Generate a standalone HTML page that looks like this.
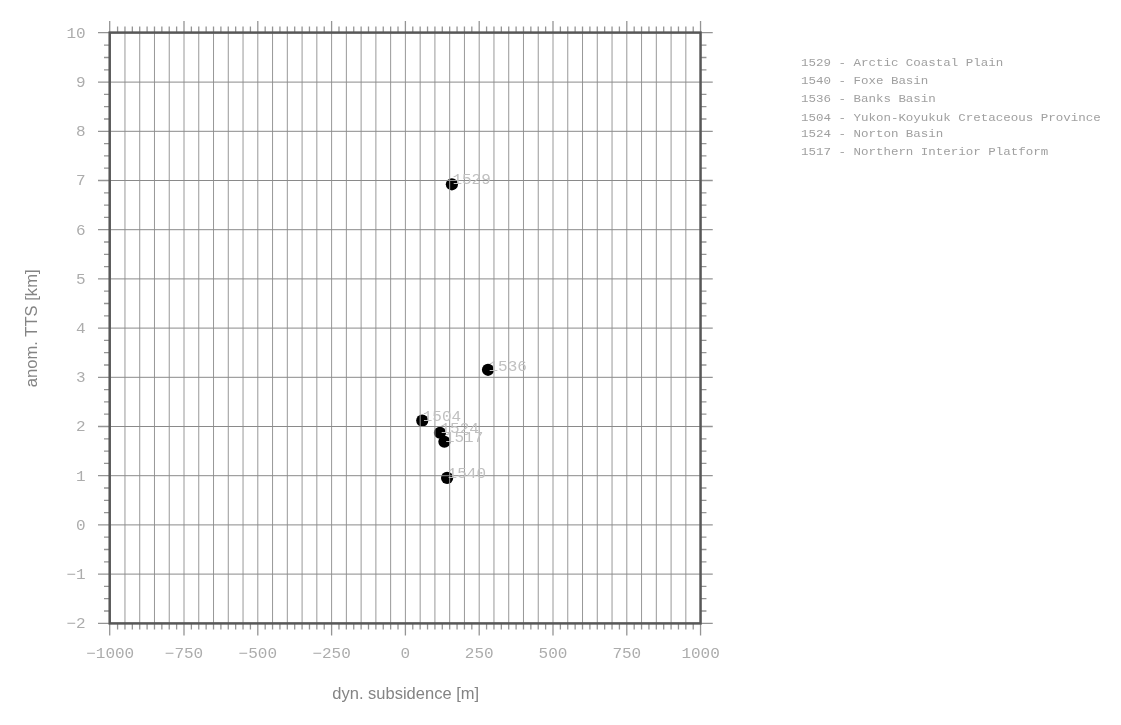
<!DOCTYPE html>
<html><head><meta charset="utf-8"><title>plot</title>
<style>html,body{margin:0;padding:0;background:#fff;}svg{display:block;}</style></head>
<body><svg width="1121" height="725" viewBox="0 0 1121 725">
<rect width="1121" height="725" fill="#fff"/>
<circle cx="451.90" cy="184.30" r="6.1" fill="#000"/>
<circle cx="488.00" cy="369.80" r="6.1" fill="#000"/>
<circle cx="422.25" cy="420.60" r="6.1" fill="#000"/>
<circle cx="439.95" cy="432.75" r="6.1" fill="#000"/>
<circle cx="444.40" cy="441.75" r="6.1" fill="#000"/>
<circle cx="447.10" cy="477.90" r="6.1" fill="#000"/>
<path d="M124.96 32.60V623.40M139.72 32.60V623.40M154.48 32.60V623.40M169.24 32.60V623.40M184.00 32.60V623.40M198.76 32.60V623.40M213.52 32.60V623.40M228.28 32.60V623.40M243.04 32.60V623.40M257.80 32.60V623.40M272.56 32.60V623.40M287.32 32.60V623.40M302.08 32.60V623.40M316.84 32.60V623.40M331.60 32.60V623.40M346.36 32.60V623.40M361.12 32.60V623.40M375.88 32.60V623.40M390.64 32.60V623.40M405.40 32.60V623.40M420.16 32.60V623.40M434.92 32.60V623.40M449.68 32.60V623.40M464.44 32.60V623.40M479.20 32.60V623.40M493.96 32.60V623.40M508.72 32.60V623.40M523.48 32.60V623.40M538.24 32.60V623.40M553.00 32.60V623.40M567.76 32.60V623.40M582.52 32.60V623.40M597.28 32.60V623.40M612.04 32.60V623.40M626.80 32.60V623.40M641.56 32.60V623.40M656.32 32.60V623.40M671.08 32.60V623.40M685.84 32.60V623.40" stroke="#989898" stroke-width="1" fill="none"/>
<path d="M109.70 574.10H700.55M109.70 524.90H700.55M109.70 475.70H700.55M109.70 426.50H700.55M109.70 377.30H700.55M109.70 328.10H700.55M109.70 278.90H700.55M109.70 229.70H700.55M109.70 180.50H700.55M109.70 131.30H700.55M109.70 82.10H700.55" stroke="#8a8a8a" stroke-width="1" fill="none"/>
<path d="M109.70 623.40v6M109.70 32.60v-6M109.70 623.40v12M109.70 32.60v-11.6M117.58 623.40v6M117.58 32.60v-6M124.96 623.40v6M124.96 32.60v-6M132.34 623.40v6M132.34 32.60v-6M139.72 623.40v6M139.72 32.60v-6M147.10 623.40v6M147.10 32.60v-6M154.48 623.40v6M154.48 32.60v-6M161.86 623.40v6M161.86 32.60v-6M169.24 623.40v6M169.24 32.60v-6M176.62 623.40v6M176.62 32.60v-6M184.00 623.40v6M184.00 32.60v-6M184.00 623.40v12M184.00 32.60v-11.6M191.38 623.40v6M191.38 32.60v-6M198.76 623.40v6M198.76 32.60v-6M206.14 623.40v6M206.14 32.60v-6M213.52 623.40v6M213.52 32.60v-6M220.90 623.40v6M220.90 32.60v-6M228.28 623.40v6M228.28 32.60v-6M235.66 623.40v6M235.66 32.60v-6M243.04 623.40v6M243.04 32.60v-6M250.42 623.40v6M250.42 32.60v-6M257.80 623.40v6M257.80 32.60v-6M257.80 623.40v12M257.80 32.60v-11.6M265.18 623.40v6M265.18 32.60v-6M272.56 623.40v6M272.56 32.60v-6M279.94 623.40v6M279.94 32.60v-6M287.32 623.40v6M287.32 32.60v-6M294.70 623.40v6M294.70 32.60v-6M302.08 623.40v6M302.08 32.60v-6M309.46 623.40v6M309.46 32.60v-6M316.84 623.40v6M316.84 32.60v-6M324.22 623.40v6M324.22 32.60v-6M331.60 623.40v6M331.60 32.60v-6M331.60 623.40v12M331.60 32.60v-11.6M338.98 623.40v6M338.98 32.60v-6M346.36 623.40v6M346.36 32.60v-6M353.74 623.40v6M353.74 32.60v-6M361.12 623.40v6M361.12 32.60v-6M368.50 623.40v6M368.50 32.60v-6M375.88 623.40v6M375.88 32.60v-6M383.26 623.40v6M383.26 32.60v-6M390.64 623.40v6M390.64 32.60v-6M398.02 623.40v6M398.02 32.60v-6M405.40 623.40v6M405.40 32.60v-6M405.40 623.40v12M405.40 32.60v-11.6M412.78 623.40v6M412.78 32.60v-6M420.16 623.40v6M420.16 32.60v-6M427.54 623.40v6M427.54 32.60v-6M434.92 623.40v6M434.92 32.60v-6M442.30 623.40v6M442.30 32.60v-6M449.68 623.40v6M449.68 32.60v-6M457.06 623.40v6M457.06 32.60v-6M464.44 623.40v6M464.44 32.60v-6M471.82 623.40v6M471.82 32.60v-6M479.20 623.40v6M479.20 32.60v-6M479.20 623.40v12M479.20 32.60v-11.6M486.58 623.40v6M486.58 32.60v-6M493.96 623.40v6M493.96 32.60v-6M501.34 623.40v6M501.34 32.60v-6M508.72 623.40v6M508.72 32.60v-6M516.10 623.40v6M516.10 32.60v-6M523.48 623.40v6M523.48 32.60v-6M530.86 623.40v6M530.86 32.60v-6M538.24 623.40v6M538.24 32.60v-6M545.62 623.40v6M545.62 32.60v-6M553.00 623.40v6M553.00 32.60v-6M553.00 623.40v12M553.00 32.60v-11.6M560.38 623.40v6M560.38 32.60v-6M567.76 623.40v6M567.76 32.60v-6M575.14 623.40v6M575.14 32.60v-6M582.52 623.40v6M582.52 32.60v-6M589.90 623.40v6M589.90 32.60v-6M597.28 623.40v6M597.28 32.60v-6M604.66 623.40v6M604.66 32.60v-6M612.04 623.40v6M612.04 32.60v-6M619.42 623.40v6M619.42 32.60v-6M626.80 623.40v6M626.80 32.60v-6M626.80 623.40v12M626.80 32.60v-11.6M634.18 623.40v6M634.18 32.60v-6M641.56 623.40v6M641.56 32.60v-6M648.94 623.40v6M648.94 32.60v-6M656.32 623.40v6M656.32 32.60v-6M663.70 623.40v6M663.70 32.60v-6M671.08 623.40v6M671.08 32.60v-6M678.46 623.40v6M678.46 32.60v-6M685.84 623.40v6M685.84 32.60v-6M693.22 623.40v6M693.22 32.60v-6M700.55 623.40v6M700.55 32.60v-6M700.55 623.40v12M700.55 32.60v-11.6M109.70 623.40h-5.7M700.55 623.40h5.9M109.70 623.40h-11.7M700.55 623.40h12.2M109.70 611.00h-5.7M700.55 611.00h5.9M109.70 598.70h-5.7M700.55 598.70h5.9M109.70 586.40h-5.7M700.55 586.40h5.9M109.70 574.10h-5.7M700.55 574.10h5.9M109.70 574.10h-11.7M700.55 574.10h12.2M109.70 561.80h-5.7M700.55 561.80h5.9M109.70 549.50h-5.7M700.55 549.50h5.9M109.70 537.20h-5.7M700.55 537.20h5.9M109.70 524.90h-5.7M700.55 524.90h5.9M109.70 524.90h-11.7M700.55 524.90h12.2M109.70 512.60h-5.7M700.55 512.60h5.9M109.70 500.30h-5.7M700.55 500.30h5.9M109.70 488.00h-5.7M700.55 488.00h5.9M109.70 475.70h-5.7M700.55 475.70h5.9M109.70 475.70h-11.7M700.55 475.70h12.2M109.70 463.40h-5.7M700.55 463.40h5.9M109.70 451.10h-5.7M700.55 451.10h5.9M109.70 438.80h-5.7M700.55 438.80h5.9M109.70 426.50h-5.7M700.55 426.50h5.9M109.70 426.50h-11.7M700.55 426.50h12.2M109.70 414.20h-5.7M700.55 414.20h5.9M109.70 401.90h-5.7M700.55 401.90h5.9M109.70 389.60h-5.7M700.55 389.60h5.9M109.70 377.30h-5.7M700.55 377.30h5.9M109.70 377.30h-11.7M700.55 377.30h12.2M109.70 365.00h-5.7M700.55 365.00h5.9M109.70 352.70h-5.7M700.55 352.70h5.9M109.70 340.40h-5.7M700.55 340.40h5.9M109.70 328.10h-5.7M700.55 328.10h5.9M109.70 328.10h-11.7M700.55 328.10h12.2M109.70 315.80h-5.7M700.55 315.80h5.9M109.70 303.50h-5.7M700.55 303.50h5.9M109.70 291.20h-5.7M700.55 291.20h5.9M109.70 278.90h-5.7M700.55 278.90h5.9M109.70 278.90h-11.7M700.55 278.90h12.2M109.70 266.60h-5.7M700.55 266.60h5.9M109.70 254.30h-5.7M700.55 254.30h5.9M109.70 242.00h-5.7M700.55 242.00h5.9M109.70 229.70h-5.7M700.55 229.70h5.9M109.70 229.70h-11.7M700.55 229.70h12.2M109.70 217.40h-5.7M700.55 217.40h5.9M109.70 205.10h-5.7M700.55 205.10h5.9M109.70 192.80h-5.7M700.55 192.80h5.9M109.70 180.50h-5.7M700.55 180.50h5.9M109.70 180.50h-11.7M700.55 180.50h12.2M109.70 168.20h-5.7M700.55 168.20h5.9M109.70 155.90h-5.7M700.55 155.90h5.9M109.70 143.60h-5.7M700.55 143.60h5.9M109.70 131.30h-5.7M700.55 131.30h5.9M109.70 131.30h-11.7M700.55 131.30h12.2M109.70 119.00h-5.7M700.55 119.00h5.9M109.70 106.70h-5.7M700.55 106.70h5.9M109.70 94.40h-5.7M700.55 94.40h5.9M109.70 82.10h-5.7M700.55 82.10h5.9M109.70 82.10h-11.7M700.55 82.10h12.2M109.70 69.80h-5.7M700.55 69.80h5.9M109.70 57.50h-5.7M700.55 57.50h5.9M109.70 45.20h-5.7M700.55 45.20h5.9M109.70 32.60h-5.7M700.55 32.60h5.9M109.70 32.60h-11.7M700.55 32.60h12.2" stroke="rgba(0,0,0,0.42)" stroke-width="1.3" fill="none"/>
<rect x="109.70" y="32.60" width="590.85" height="590.80" stroke="#575757" stroke-width="2.5" fill="none"/>
<g fill="#acacac" font-family="Liberation Mono, monospace" font-size="16"><text x="110.20" y="657.8" text-anchor="middle" transform="translate(0 657.80) scale(1 0.93) translate(0 -657.80)">−1000</text><text x="184.00" y="657.8" text-anchor="middle" transform="translate(0 657.80) scale(1 0.93) translate(0 -657.80)">−750</text><text x="257.80" y="657.8" text-anchor="middle" transform="translate(0 657.80) scale(1 0.93) translate(0 -657.80)">−500</text><text x="331.60" y="657.8" text-anchor="middle" transform="translate(0 657.80) scale(1 0.93) translate(0 -657.80)">−250</text><text x="405.40" y="657.8" text-anchor="middle" transform="translate(0 657.80) scale(1 0.93) translate(0 -657.80)">0</text><text x="479.20" y="657.8" text-anchor="middle" transform="translate(0 657.80) scale(1 0.93) translate(0 -657.80)">250</text><text x="553.00" y="657.8" text-anchor="middle" transform="translate(0 657.80) scale(1 0.93) translate(0 -657.80)">500</text><text x="626.80" y="657.8" text-anchor="middle" transform="translate(0 657.80) scale(1 0.93) translate(0 -657.80)">750</text><text x="700.60" y="657.8" text-anchor="middle" transform="translate(0 657.80) scale(1 0.93) translate(0 -657.80)">1000</text><text x="85.6" y="628.30" text-anchor="end" transform="translate(0 628.30) scale(1 0.93) translate(0 -628.30)">−2</text><text x="85.6" y="579.10" text-anchor="end" transform="translate(0 579.10) scale(1 0.93) translate(0 -579.10)">−1</text><text x="85.6" y="529.90" text-anchor="end" transform="translate(0 529.90) scale(1 0.93) translate(0 -529.90)">0</text><text x="85.6" y="480.70" text-anchor="end" transform="translate(0 480.70) scale(1 0.93) translate(0 -480.70)">1</text><text x="85.6" y="431.50" text-anchor="end" transform="translate(0 431.50) scale(1 0.93) translate(0 -431.50)">2</text><text x="85.6" y="382.30" text-anchor="end" transform="translate(0 382.30) scale(1 0.93) translate(0 -382.30)">3</text><text x="85.6" y="333.10" text-anchor="end" transform="translate(0 333.10) scale(1 0.93) translate(0 -333.10)">4</text><text x="85.6" y="283.90" text-anchor="end" transform="translate(0 283.90) scale(1 0.93) translate(0 -283.90)">5</text><text x="85.6" y="234.70" text-anchor="end" transform="translate(0 234.70) scale(1 0.93) translate(0 -234.70)">6</text><text x="85.6" y="185.50" text-anchor="end" transform="translate(0 185.50) scale(1 0.93) translate(0 -185.50)">7</text><text x="85.6" y="136.30" text-anchor="end" transform="translate(0 136.30) scale(1 0.93) translate(0 -136.30)">8</text><text x="85.6" y="87.10" text-anchor="end" transform="translate(0 87.10) scale(1 0.93) translate(0 -87.10)">9</text><text x="85.6" y="37.90" text-anchor="end" transform="translate(0 37.90) scale(1 0.93) translate(0 -37.90)">10</text></g>
<g fill="#c0c0c0" font-family="Liberation Mono, monospace" font-size="16"><text x="452.40" y="184.40" transform="translate(0 184.40) scale(1 0.9) translate(0 -184.40)">1529</text><text x="488.50" y="370.60" transform="translate(0 370.60) scale(1 0.9) translate(0 -370.60)">1536</text><text x="422.75" y="421.10" transform="translate(0 421.10) scale(1 0.9) translate(0 -421.10)">1504</text><text x="440.45" y="433.10" transform="translate(0 433.10) scale(1 0.9) translate(0 -433.10)">1524</text><text x="444.90" y="442.00" transform="translate(0 442.00) scale(1 0.9) translate(0 -442.00)">1517</text><text x="447.60" y="478.20" transform="translate(0 478.20) scale(1 0.9) translate(0 -478.20)">1540</text></g>
<text x="405.7" y="699" text-anchor="middle" fill="#848484" font-family="Liberation Sans, sans-serif" font-size="16.5">dyn. subsidence [m]</text>
<text transform="translate(37 328.3) rotate(-90)" text-anchor="middle" fill="#848484" font-family="Liberation Sans, sans-serif" font-size="16.6">anom. TTS [km]</text>
<g fill="#a0a0a0" font-family="Liberation Mono, monospace" font-size="12.5"><text x="801" y="65.8" transform="translate(0 65.80) scale(1 0.9) translate(0 -65.80)">1529 - Arctic Coastal Plain</text><text x="801" y="83.8" transform="translate(0 83.80) scale(1 0.9) translate(0 -83.80)">1540 - Foxe Basin</text><text x="801" y="101.7" transform="translate(0 101.70) scale(1 0.9) translate(0 -101.70)">1536 - Banks Basin</text><text x="801" y="120.6" transform="translate(0 120.60) scale(1 0.9) translate(0 -120.60)">1504 - Yukon-Koyukuk Cretaceous Province</text><text x="801" y="137.0" transform="translate(0 137.00) scale(1 0.9) translate(0 -137.00)">1524 - Norton Basin</text><text x="801" y="154.9" transform="translate(0 154.90) scale(1 0.9) translate(0 -154.90)">1517 - Northern Interior Platform</text></g>
</svg></body></html>
